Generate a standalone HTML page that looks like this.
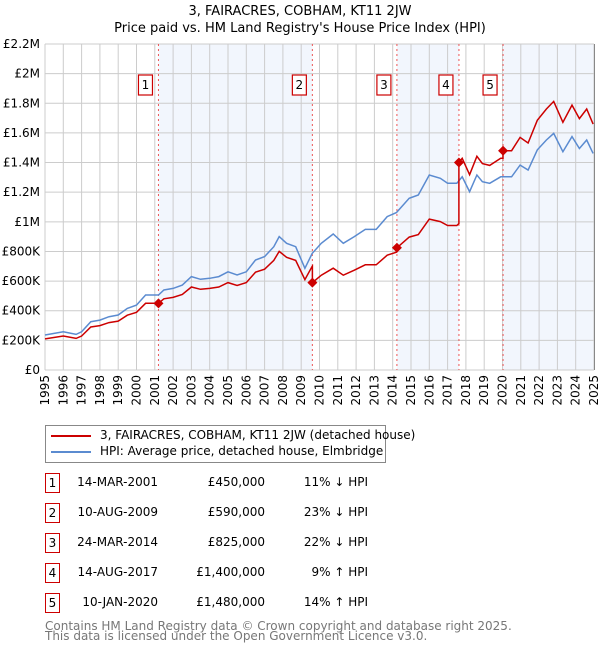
<!DOCTYPE html>
<html><head><meta charset="utf-8"><style>
body{margin:0;background:#fff;font-family:"DejaVu Sans","Liberation Sans",sans-serif;}
#wrap{position:relative;width:600px;height:650px;overflow:hidden}
.t{position:absolute;font-size:12px;color:#000;white-space:nowrap}
.box{position:absolute;width:13px;height:18px;border:1.5px solid #c00;font-size:12px;text-align:center;line-height:18px}
</style></head><body><div id="wrap">
<div class="t" style="left:0;width:600px;text-align:center;top:4px;font-size:13px">3, FAIRACRES, COBHAM, KT11 2JW</div>
<div class="t" style="left:0;width:600px;text-align:center;top:21px;font-size:13px">Price paid vs. HM Land Registry's House Price Index (HPI)</div>
<svg id="chart" width="600" height="410" style="position:absolute;left:0;top:0"></svg>
<div style="position:absolute;left:45px;top:425px;width:339px;height:36px;border:1px solid #888">
<div style="position:absolute;left:5px;top:9px;width:40px;height:2px;background:#c00"></div>
<div class="t" style="left:54px;top:2px">3, FAIRACRES, COBHAM, KT11 2JW (detached house)</div>
<div style="position:absolute;left:5px;top:25px;width:40px;height:2px;background:#5b8bd0"></div>
<div class="t" style="left:54px;top:18px">HPI: Average price, detached house, Elmbridge</div>
</div>
<div id="table"></div>
<div class="t" style="left:45px;top:619px;color:#777">Contains HM Land Registry data © Crown copyright and database right 2025.</div>
<div class="t" style="left:45px;top:629px;color:#777">This data is licensed under the Open Government Licence v3.0.</div>
</div>
<script>
const hpiYears=[1995,1996,1996.7,1997,1997.5,1998,1998.5,1999,1999.5,2000,2000.5,2001.2,2001.5,2002,2002.5,2003,2003.5,2004,2004.5,2005,2005.5,2006,2006.5,2007,2007.5,2007.8,2008.2,2008.7,2008.93,2009.2,2009.6,2010.1,2010.75,2011.3,2011.9,2012.5,2013.1,2013.7,2014.2,2014.9,2015.4,2016.0,2016.6,2017.0,2017.5,2017.8,2018.2,2018.6,2018.9,2019.3,2019.9,2020.5,2020.96,2021.4,2021.9,2022.4,2022.8,2023.3,2023.8,2024.2,2024.6,2024.95];
const hpiValues=[236,258,240,258,326,337,360,371,416,438,506,506,540,551,573,630,612,619,630,663,641,663,742,765,832,900,855,832,765,686,787,855,918,855,900,949,949,1035,1062,1159,1181,1316,1294,1260,1260,1304,1203,1316,1271,1260,1304,1304,1383,1350,1485,1552,1597,1473,1575,1495,1552,1462];
const saleDates=[2001.2,2009.61,2014.23,2017.62,2020.03];
const salePrices=[450,590,825,1400,1480];
const saleLabels=["1","2","3","4","5"];
const saleDateText=["14-MAR-2001","10-AUG-2009","24-MAR-2014","14-AUG-2017","10-JAN-2020"];
const salePriceText=["£450,000","£590,000","£825,000","£1,400,000","£1,480,000"];
const saleHpiText=["11% ↓ HPI","23% ↓ HPI","22% ↓ HPI","9% ↑ HPI","14% ↑ HPI"];
const yTicks=[0,200,400,600,800,1000,1200,1400,1600,1800,2000,2200];
const yTickLabels=["£0","£200K","£400K","£600K","£800K","£1M","£1.2M","£1.4M","£1.6M","£1.8M","£2M","£2.2M"];
const xTicks=[1995,1996,1997,1998,1999,2000,2001,2002,2003,2004,2005,2006,2007,2008,2009,2010,2011,2012,2013,2014,2015,2016,2017,2018,2019,2020,2021,2022,2023,2024,2025];

const X0=45,X1=594,Y0=370,Y1=44;
const xs=t=>X0+(t-1995)/30*(X1-X0);
const ys=v=>Y0-v/2200*(Y0-Y1);
const svg=document.getElementById('chart');
const NS='http://www.w3.org/2000/svg';
function mk(tag,attrs,parent){const e=document.createElementNS(NS,tag);for(const k in attrs)e.setAttribute(k,attrs[k]);(parent||svg).appendChild(e);return e;}
function hpiAt(t){for(let i=1;i<hpiYears.length;i++){if(t<=hpiYears[i]){const a=hpiYears[i-1],b=hpiYears[i];return hpiValues[i-1]+(hpiValues[i]-hpiValues[i-1])*(t-a)/(b-a);}}return hpiValues[hpiValues.length-1];}
const shadeSpans=[[0,1],[2,3],[4,-1]];
shadeSpans.forEach(([a,b])=>{const xa=xs(saleDates[a]),xb=b<0?X1:xs(saleDates[b]);
const r=mk('rect',{x:xa,y:Y1,width:xb-xa,height:Y0-Y1,fill:'#f2f6fd'});

});
yTicks.forEach((v,i)=>{const l=mk('line',{x1:X0,x2:X1,y1:ys(v),y2:ys(v),stroke:'#ccc','stroke-width':1});


const t=mk('text',{x:X0-5,y:ys(v)+4,'text-anchor':'end','font-size':12,fill:'#000'});t.textContent=yTickLabels[i];

});
xTicks.forEach(yr=>{const l=mk('line',{x1:xs(yr),x2:xs(yr),y1:Y1,y2:Y0,stroke:'#ccc','stroke-width':1});


const t=mk('text',{x:0,y:0,'text-anchor':'end','font-size':12,fill:'#000',transform:`translate(${xs(yr)+4},${Y0+5}) rotate(-90)`});t.textContent=yr;

});
saleDates.forEach((d,i)=>{const l=mk('line',{x1:xs(d),x2:xs(d),y1:Y1,y2:Y0,stroke:'#e55','stroke-width':1,'stroke-dasharray':'2,3'});


const r=mk('rect',{x:xs(d)-20,y:75,width:14,height:20,fill:'#fff',stroke:'#c00','stroke-width':1.2});


const t=mk('text',{x:xs(d)-13,y:89,'text-anchor':'middle','font-size':12});t.textContent=saleLabels[i];

});
const hp=mk('path',{d:hpiYears.map((t,i)=>(i?'L':'M')+xs(t).toFixed(1)+','+ys(hpiValues[i]).toFixed(1)).join(''),fill:'none',stroke:'#5b8bd0','stroke-width':1.5});


const pts=[];const times=hpiYears.concat(saleDates).sort((a,b)=>a-b);
times.forEach(t=>{let k=0;saleDates.forEach((d,j)=>{if(d<=t)k=j;});
 if(saleDates.includes(t)&&saleDates.indexOf(t)>0){const p=saleDates.indexOf(t)-1;pts.push([t,hpiAt(t)*salePrices[p]/hpiAt(saleDates[p])]);}
 pts.push([t,hpiAt(t)*salePrices[k]/hpiAt(saleDates[k])]);});
const rp=mk('path',{d:pts.map((p,i)=>(i?'L':'M')+xs(p[0]).toFixed(1)+','+ys(p[1]).toFixed(1)).join(''),fill:'none',stroke:'#c00','stroke-width':1.5});


saleDates.forEach((d,i)=>{const cx=xs(d),cy=ys(salePrices[i]);
const c=mk('polygon',{points:`${cx},${cy-5} ${cx+5},${cy} ${cx},${cy+5} ${cx-5},${cy}`,fill:'#c00'});

});
mk('rect',{x:X1,y:Y1,width:1,height:Y0-Y1,fill:'#888'});
const tb=document.getElementById('table');
saleLabels.forEach((l,i)=>{const y=473+i*30;
 const b=document.createElement('div');b.className='box';b.style.left='45px';b.style.top=y+'px';b.textContent=l;
 
 tb.appendChild(b);
 const cols=[[saleDateText[i],158],[salePriceText[i],265],[saleHpiText[i],368]];
 cols.forEach(([txt,r],ci)=>{const d=document.createElement('div');d.className='t';d.style.right=(600-r)+'px';d.style.top=(y+2)+'px';d.textContent=txt;
 
 tb.appendChild(d);});});
</script></body></html>
